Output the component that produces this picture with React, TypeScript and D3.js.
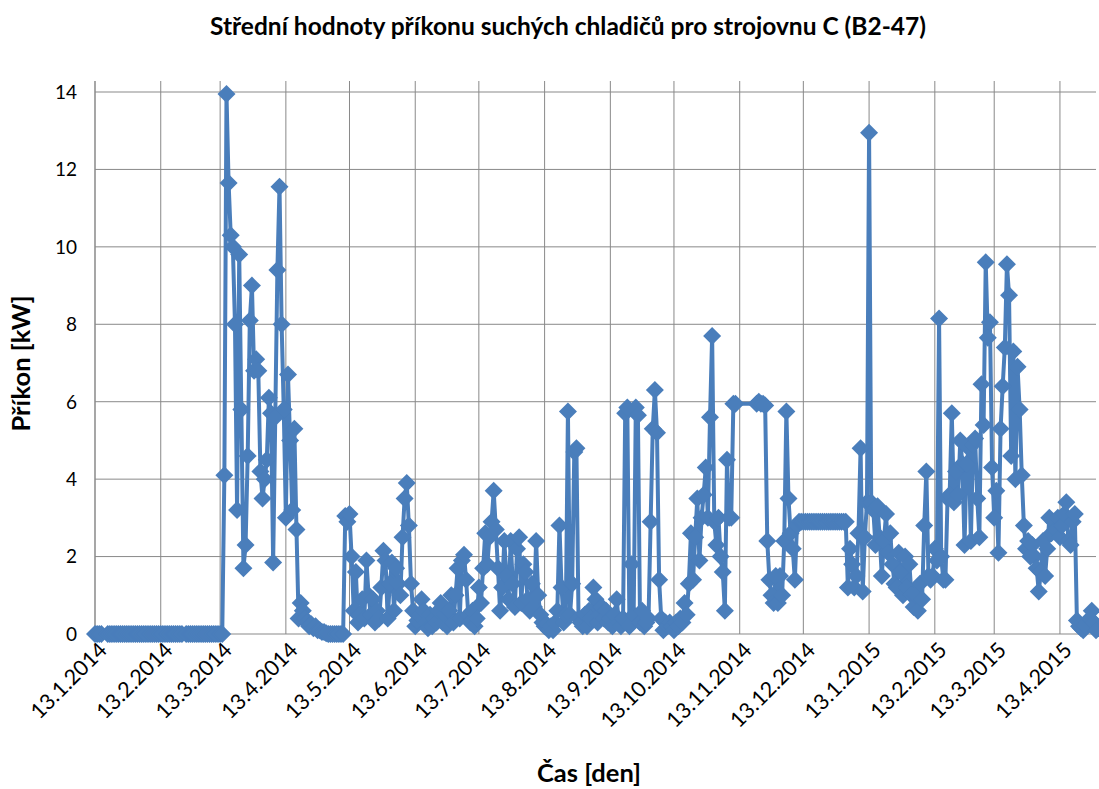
import React from "react";
import * as d3 from "d3";

// první den řady, dál po dnech
const startDate = "2014-01-13";

// denní střední hodnoty [kW], null = den bez záznamu
const jan14 = [0, 0, 0, 0, null, null, 0, 0, 0, 0, 0, 0, 0, 0, 0, 0, 0, 0, 0];
const feb14 = [0, 0, 0, 0, 0, 0, 0, 0, 0, 0, 0, 0, 0, 0, 0, 0, 0, 0, 0, 0, 0, 0, 0, null, 0, 0, 0, 0];
const mar14 = [0, 0, 0, 0, 0, 0, 0, 0, 0, 0, 0, 0, 0, 0, 4.1, 13.95, 11.65, 10.3, 10.0, 8.0, 3.2, 9.8, 5.8, 1.7, 2.3, 4.6, 8.1, 9.0, 6.8, 7.1, 6.8];
const apr14 = [4.2, 3.5, 4.0, 4.5, 6.1, 5.7, 1.85, 5.6, 9.4, 11.55, 8.0, 5.8, 3.0, 6.7, 5.0, 3.2, 5.3, 2.7, 0.4, 0.8, 0.6, 0.4, 0.3, 0.2, 0.25, 0.15, 0.2, 0.1, 0.1, 0.05];
const may14 = [0.05, 0.02, 0, 0, 0, 0, 0, 0, 0, 0, 3.05, 2.9, 3.1, 2.0, 0.6, 1.6, 0.3, 0.5, 0.9, 0.4, 1.9, 1.0, 0.5, 0.9, 0.3, 0.6, 0.4, 1.2, 2.15, 1.9, 0.4];
const jun14 = [1.3, 1.85, 0.6, 1.7, 1.3, 1.0, 2.5, 3.5, 3.9, 2.8, 1.3, 0.6, 0.2, 0.35, 0.5, 0.9, 0.6, 0.3, 0.15, 0.5, 0.2, 0.4, 0.3, 0.6, 0.8, 0.3, 0.5, 0.2, 0.6, 1.0];
const jul14 = [0.3, 1.0, 1.7, 0.4, 1.9, 2.05, 1.4, 0.5, 0.3, 0.6, 0.2, 0.4, 1.2, 0.8, 1.7, 2.6, 1.8, 2.5, 2.9, 3.7, 2.7, 1.7, 0.6, 1.2, 2.4, 1.5, 0.9, 2.4, 1.3, 0.7, 2.2];
const aug14 = [2.5, 0.8, 1.8, 1.6, 0.9, 0.6, 1.3, 0.7, 2.4, 1.0, 0.5, 0.3, 0.2, 0.25, 0.1, 0.2, 0.1, 0.3, 0.6, 2.8, 1.2, 0.3, 0.5, 5.75, 0.5, 1.3, 4.7, 4.8, 0.4, 0.3, 0.2];
const sep14 = [0.5, 0.2, 0.6, 0.4, 1.2, 0.9, 0.3, 0.5, 0.7, 0.4, 0.6, 0.3, 0.4, 0.2, 0.5, 0.9, 0.3, 0.2, 0.4, 5.7, 5.85, 0.2, 1.8, 0.5, 5.85, 5.65, 0.3, 0.6, 0.2, 0.3];
const oct14 = [0.4, 2.9, 5.3, 6.3, 5.2, 1.4, 0.4, 0.1, 0.3, 0.2, 0.3, 0.2, 0.1, 0.3, 0.2, 0.4, 0.3, 0.8, 0.5, 1.3, 2.6, 1.4, 2.5, 3.5, 1.9, 3.0, 3.6, 4.3, 3.0, 5.6, 7.7];
const nov14 = [2.9, 2.3, 3.0, 2.0, 1.6, 0.6, 4.5, 3.0, 3.0, 5.95, 5.95, null, null, null, null, null, null, null, null, null, 5.95, 6.0, 5.95, 5.95, 5.9, 2.4, 1.4, 1.0, 0.8, 1.5];
const dec14 = [0.8, 1.5, 1.0, 2.4, 5.75, 3.5, 2.6, 2.2, 1.4, 2.8, 2.9, 2.9, 2.9, 2.9, 2.9, 2.9, 2.9, 2.9, 2.9, 2.9, 2.9, 2.9, 2.9, 2.9, 2.9, 2.9, 2.9, 2.9, 2.9, 2.9, 2.9];
const jan15 = [2.9, 2.9, 1.2, 2.2, 1.8, 1.2, 1.5, 2.6, 4.8, 1.1, 2.5, 3.4, 12.95, 3.4, 3.2, 2.3, 3.3, 2.5, 1.5, 2.4, 3.1, 2.1, 2.6, 1.8, 1.3, 1.2, 2.1, 1.6, 1.0, 2.0, 1.2];
const feb15 = [1.8, 1.0, 0.7, 1.0, 0.6, 1.3, 0.9, 2.8, 4.2, 1.5, 1.4, 1.5, 2.2, 1.9, 8.15, 2.0, 1.4, 1.4, 3.5, 3.6, 5.7, 3.4, 4.2, 3.6, 5.0, 4.4, 2.3, 4.4];
const mar15 = [4.8, 2.4, 4.9, 5.05, 3.5, 2.5, 6.45, 5.4, 9.6, 7.65, 8.05, 4.3, 3.0, 3.7, 2.1, 5.3, 6.4, 7.4, 9.55, 8.75, 4.6, 7.3, 4.0, 6.9, 5.8, 4.1, 2.8, 2.2, 2.4, 2.0, 2.3];
const apr15 = [2.0, 1.7, 1.1, 1.6, 2.4, 1.5, 2.2, 3.0, 2.6, 2.9, 2.7, 3.0, 2.5, 2.8, 3.1, 3.4, 2.4, 2.3, 2.9, 3.1, 0.35, 0.2, 0.15, 0.1, 0.2, 0.3, 0.4, 0.6, 0.3, 0.1];

const yTicks = [0, 2, 4, 6, 8, 10, 12, 14];
const xTickLabels = [
  "13.1.2014", "13.2.2014", "13.3.2014", "13.4.2014", "13.5.2014",
  "13.6.2014", "13.7.2014", "13.8.2014", "13.9.2014", "13.10.2014",
  "13.11.2014", "13.12.2014", "13.1.2015", "13.2.2015", "13.3.2015",
  "13.4.2015",
];

const title = "Střední hodnoty příkonu suchých chladičů pro strojovnu C (B2-47)";
const font = "Lato, 'Open Sans', sans-serif";
const blue = "#4a7ebb";
const grid = "#898989";

export default function App() {
  const width = 1099;
  const height = 789;
  const margin = { top: 92, right: 3, bottom: 155, left: 95 };

  const parseDay = d3.timeParse("%Y-%m-%d");
  const parseTick = d3.timeParse("%d.%m.%Y");
  const start = parseDay(startDate)!;

  const values = [
    ...jan14, ...feb14, ...mar14, ...apr14, ...may14, ...jun14, ...jul14, ...aug14,
    ...sep14, ...oct14, ...nov14, ...dec14, ...jan15, ...feb15, ...mar15, ...apr15,
  ];
  const data = values
    .map((v, i) => ({ date: d3.timeDay.offset(start, i), value: v }))
    .filter((d) => d.value !== null) as { date: Date; value: number }[];

  const x = d3
    .scaleTime()
    .domain([start, d3.timeDay.offset(start, values.length - 1)])
    .range([margin.left, width - margin.right]);

  const y = d3
    .scaleLinear()
    .domain([0, 14])
    .range([height - margin.bottom, margin.top]);

  const plotTop = margin.top - 11;
  const plotBottom = y(0);

  const path = d3
    .line<{ date: Date; value: number }>()
    .x((d) => x(d.date))
    .y((d) => y(d.value))(data);

  const s = 9;
  const diamond = `M0,${-s}L${s},0L0,${s}L${-s},0Z`;

  const tickDates = xTickLabels.map((t) => parseTick(t)!);

  return (
    <div style={{ position: "absolute", left: 0, top: 0 }}>
      <svg width={width} height={height} style={{ display: "block", background: "#fff" }}>
        <text
          x={568}
          y={35}
          textAnchor="middle"
          fontFamily={font}
          fontWeight="bold"
          fontSize={24.5}
        >
          {title}
        </text>

        {/* mřížka */}
        {yTicks.map((t) => (
          <line key={`h${t}`} x1={margin.left} x2={width - margin.right} y1={y(t)} y2={y(t)} stroke={grid} strokeWidth={1} />
        ))}
        {tickDates.map((d, i) => (
          <line key={`v${i}`} x1={x(d)} x2={x(d)} y1={plotTop} y2={plotBottom} stroke={grid} strokeWidth={1} />
        ))}
        <line x1={margin.left} x2={margin.left} y1={plotTop} y2={plotBottom} stroke={grid} strokeWidth={1} />

        {/* osa Y */}
        {yTicks.map((t) => (
          <text key={`yl${t}`} x={77} y={y(t)} dy="0.36em" textAnchor="end" fontFamily={font} fontSize={19}>
            {t}
          </text>
        ))}

        {/* osa X */}
        {tickDates.map((d, i) => (
          <text
            key={`xl${i}`}
            transform={`translate(${x(d) + 8}, ${plotBottom + 12}) rotate(-45)`}
            textAnchor="end"
            dy="0.35em"
            fontFamily={font}
            fontSize={21.5}
          >
            {xTickLabels[i]}
          </text>
        ))}

        {/* řada */}
        <path d={path ?? ""} fill="none" stroke={blue} strokeWidth={4} strokeLinejoin="round" />
        {data.map((d, i) => (
          <path key={i} d={diamond} transform={`translate(${x(d.date)}, ${y(d.value)})`} fill={blue} />
        ))}

        <text
          transform={`translate(30, ${(plotTop + plotBottom) / 2 + 6}) rotate(-90)`}
          textAnchor="middle"
          fontFamily={font}
          fontWeight="bold"
          fontSize={25.5}
        >
          Příkon [kW]
        </text>
        <text x={589} y={782} textAnchor="middle" fontFamily={font} fontWeight="bold" fontSize={25.5}>
          Čas [den]
        </text>
      </svg>
    </div>
  );
}
